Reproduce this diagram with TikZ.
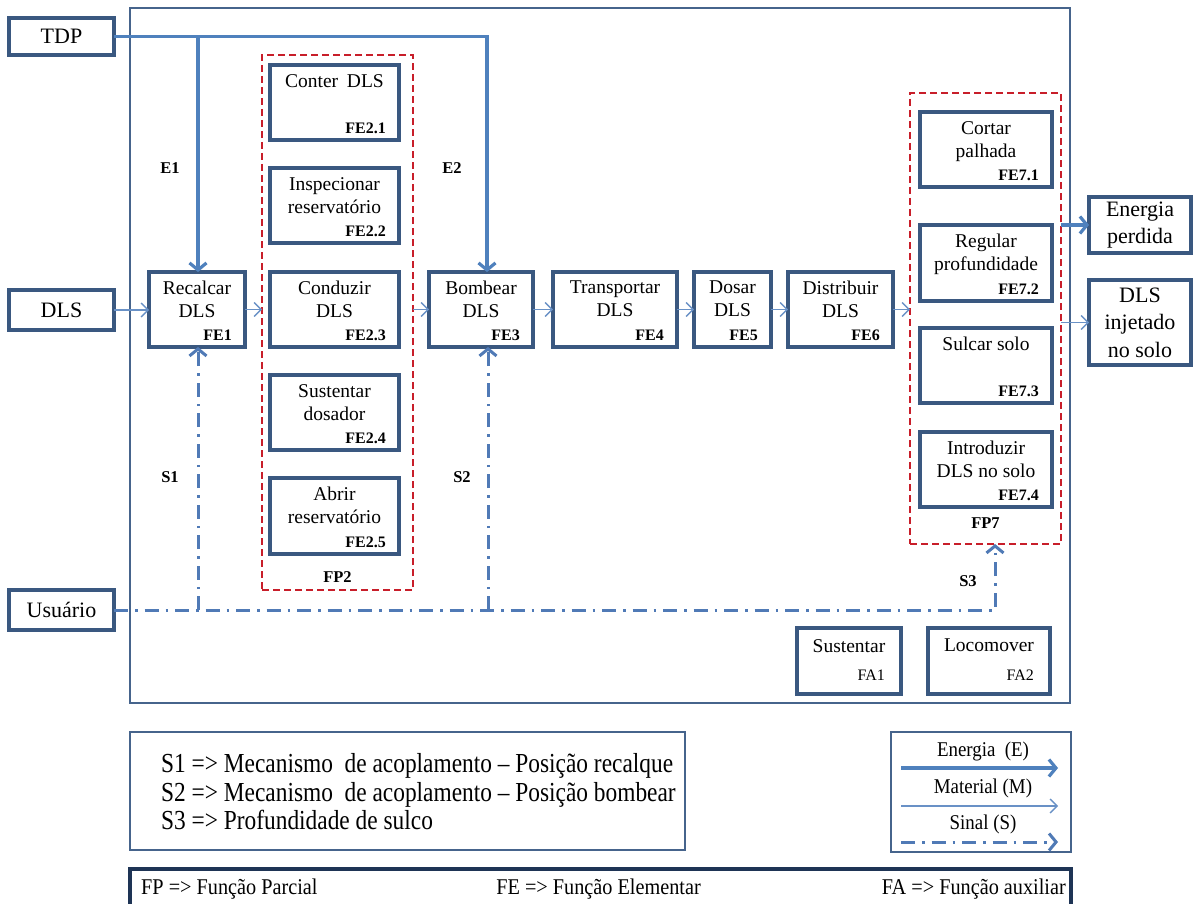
\documentclass[tikz,border=0pt]{standalone}
\usepackage{fontspec}
\setmainfont{Liberation Serif}
\newfontfamily\narrowfont[FakeStretch=0.9,Ligatures=TeX]{Liberation Serif}
\newfontfamily\legfont[FakeStretch=0.85,Ligatures=TeX]{Liberation Serif}
\usetikzlibrary{arrows.meta,fit}
\definecolor{boxc}{RGB}{58,88,128}
\definecolor{frmc}{RGB}{70,100,140}
\definecolor{redc}{RGB}{200,30,42}
\definecolor{matc}{RGB}{105,145,198}
\definecolor{enrc}{RGB}{79,129,189}
\definecolor{sigc}{RGB}{80,122,182}
\definecolor{barc}{RGB}{30,52,85}
\tikzset{
 fbox/.style={draw=boxc,line width=3.2pt,inner sep=0pt,outer sep=0pt},
 frm/.style={draw=frmc,line width=1.8pt,inner sep=0pt,outer sep=0pt},
 legbox/.style={draw=frmc,line width=2.2pt,inner sep=0pt,outer sep=0pt},
 barbox/.style={draw=barc,line width=3.4pt,inner sep=0pt,outer sep=0pt},
 fpbox/.style={draw=redc,line width=2pt,dash pattern=on 7pt off 4pt,inner sep=0pt,outer sep=0pt},
 btxt/.style={font=\fontsize{19.5}{23}\selectfont,align=center,inner sep=0pt},
 fel/.style={font=\fontsize{16}{18}\selectfont\bfseries,inner sep=0pt},
 fal/.style={font=\fontsize{16}{18}\selectfont,inner sep=0pt},
 otxt/.style={font=\fontsize{22}{27.5}\selectfont,align=center,inner sep=0pt},
 lbl/.style={font=\fontsize{16.5}{18}\selectfont\bfseries,inner sep=0pt},
 leg/.style={font=\legfont\fontsize{27.5}{28.5}\selectfont,align=left,inner sep=0pt},
 legb/.style={font=\narrowfont\fontsize{21}{24}\selectfont,inner sep=0pt},
 bartxt/.style={font=\narrowfont\fontsize{22.5}{24}\selectfont,inner sep=0pt},
 mat/.style={draw=matc,line width=1.3pt,-{Straight Barb[length=7pt,width=14pt]}},
 enr/.style={draw=enrc,line width=3.2pt,-{Straight Barb[length=7pt,width=17pt]}},
 sig/.style={draw=sigc,line width=3pt,dash pattern=on 14pt off 7pt on 2.5pt off 7pt,-{Straight Barb[length=7pt,width=17pt]}},
}
% name, x1, y1, x2, y2, text, label
\newcommand\fbx[7]{%
  \coordinate (#1-a) at (#2,#3);
  \coordinate (#1-b) at (#4,#5);
  \node[fbox, fit=(#1-a)(#1-b)] (#1) {};
  \node[btxt, anchor=north] (#1-t) at ([yshift=-9pt]#1.north) {#6};
  \node[fel, anchor=base east] (#1-l) at ([xshift=-13pt,yshift=6.5pt]#1.south east) {#7};
}
\newcommand\obx[6]{%
  \coordinate (#1-a) at (#2,#3);
  \coordinate (#1-b) at (#4,#5);
  \node[fbox, fit=(#1-a)(#1-b)] (#1) {};
  \node[otxt] (#1-t) at (#1.center) {#6};
}
\begin{document}
\begin{tikzpicture}[x=1pt,y=-1pt]
\useasboundingbox (0,0) rectangle (1193,904);
\fill[white] (0,0) rectangle (1193,904);

% main frame
\coordinate (fr-a) at (130,8);
\coordinate (fr-b) at (1070,703);
\node[frm, fit=(fr-a)(fr-b)] (frame) {};

% outside boxes
\obx{TDP}{9}{18}{114}{55}{TDP}
\obx{DLS}{9}{290}{114}{330}{DLS}
\obx{Usuario}{9}{590}{114}{630}{Usuário}
\obx{Energia}{1089}{197}{1191}{253}{Energia\\perdida}
\obx{DLSinj}{1089}{280}{1191}{365}{DLS\\injetado\\no solo}

% FP2
\coordinate (fp2-a) at (262,55);
\coordinate (fp2-b) at (413,590);
\node[fpbox, fit=(fp2-a)(fp2-b)] (FP2) {};
\node[lbl] (FP2-l) at (337.5,577) {FP2};
\fbx{FEa}{270}{65}{399}{140}{Conter\hspace{0.45em}DLS}{FE2.1}
\fbx{FEb}{270}{168}{399}{243}{Inspecionar\\reservatório}{FE2.2}
\fbx{FEc}{270}{272}{399}{347}{Conduzir\\DLS}{FE2.3}
\fbx{FEd}{270}{375}{399}{450}{Sustentar\\dosador}{FE2.4}
\fbx{FEe}{270}{478}{399}{554}{Abrir\\reservatório}{FE2.5}

% FP7
\coordinate (fp7-a) at (910,93);
\coordinate (fp7-b) at (1061,544);
\node[fpbox, fit=(fp7-a)(fp7-b)] (FP7) {};
\node[lbl] (FP7-l) at (985.5,523) {FP7};
\fbx{FGa}{920}{112}{1052}{187}{Cortar\\palhada}{FE7.1}
\fbx{FGb}{920}{225}{1052}{301}{Regular\\profundidade}{FE7.2}
\fbx{FGc}{920}{328}{1052}{403}{Sulcar solo}{FE7.3}
\fbx{FGd}{920}{432}{1052}{507}{Introduzir\\DLS no solo}{FE7.4}

% main chain
\fbx{Recalcar}{149}{272}{245}{347}{Recalcar\\DLS}{FE1}
\fbx{Bombear}{429}{272}{533}{347}{Bombear\\DLS}{FE3}
\fbx{Transportar}{553}{272}{677}{347}{Transportar\\DLS}{FE4}
\fbx{Dosar}{694}{272}{771}{347}{Dosar\\DLS}{FE5}
\fbx{Distribuir}{788}{272}{893}{347}{Distribuir\\DLS}{FE6}

% auxiliary
\coordinate (fa1-a) at (797,628);
\coordinate (fa1-b) at (901,694);
\node[fbox, fit=(fa1-a)(fa1-b)] (FA1) {};
\node[btxt, anchor=north] (FA1-t) at ([yshift=-11pt]FA1.north) {Sustentar};
\node[fal, anchor=base east] (FA1-l) at ([xshift=-16pt,yshift=14pt]FA1.south east) {FA1};
\coordinate (fa2-a) at (928,628);
\coordinate (fa2-b) at (1050,694);
\node[fbox, fit=(fa2-a)(fa2-b)] (FA2) {};
\node[btxt, anchor=north] (FA2-t) at ([yshift=-11pt]FA2.north) {Locomover};
\node[fal, anchor=base east] (FA2-l) at ([xshift=-16pt,yshift=14pt]FA2.south east) {FA2};

% material flow
\draw[mat] (DLS.east) -- (DLS.east -| Recalcar.west);
\draw[mat] (Recalcar.east) -- (Recalcar.east -| FP2.west);
\draw[mat] (Bombear.west -| FP2.east) -- (Bombear.west);
\draw[mat] (Bombear.east) -- (Transportar.west);
\draw[mat] (Transportar.east) -- (Dosar.west);
\draw[mat] (Dosar.east) -- (Distribuir.west);
\draw[mat] (Distribuir.east) -- (Distribuir.east -| FP7.west);
\draw[mat] (DLSinj.west -| FP7.east) -- (DLSinj.west);

% energy flow
\coordinate (e1) at (198,36.5);
\coordinate (e2) at (487,36.5);
\draw[enr] (TDP.east) -- (e2) -- (e2 |- Bombear.north);
\draw[enr] (e1) -- (e1 |- Recalcar.north);
\draw[enr] (Energia.west -| FP7.east) -- (Energia.west);

% signal flow
\coordinate (s1) at (198,610);
\coordinate (s2) at (488,610);
\coordinate (s3) at (995,610);
\draw[sig] (Usuario.east) -- (s3) -- (s3 |- FP7.south);
\draw[sig] (s1) -- (s1 |- Recalcar.south);
\draw[sig] (s2) -- (s2 |- Bombear.south);

% labels
\node[lbl] (E1) at (170,168) {E1};
\node[lbl] (E2) at (452,168) {E2};
\node[lbl] (S1) at (170,477) {S1};
\node[lbl] (S2) at (462,477) {S2};
\node[lbl] (S3) at (968,581) {S3};

% legend 1
\coordinate (l1-a) at (130,732);
\coordinate (l1-b) at (685,850);
\node[legbox, fit=(l1-a)(l1-b)] (leg1) {};
\node[leg, anchor=west] (leg1-t) at (161,792) {S1 => Mecanismo\ \ de acoplamento – Posição recalque\\S2 => Mecanismo\ \ de acoplamento – Posição bombear\\S3 => Profundidade de sulco};

% legend 2
\coordinate (l2-a) at (891,732);
\coordinate (l2-b) at (1071,852);
\node[legbox, fit=(l2-a)(l2-b)] (leg2) {};
\node[legb] (leg2-e) at (983,751) {Energia\ \ (E)};
\coordinate (le-a) at (901,768);
\coordinate (le-b) at (1058,768);
\draw[enr] (le-a) -- (le-b);
\node[legb] (leg2-m) at (983,788) {Material (M)};
\coordinate (lm-a) at (901,806);
\coordinate (lm-b) at (1058,806);
\draw[mat] (lm-a) -- (lm-b);
\node[legb] (leg2-s) at (983,824) {Sinal (S)};
\coordinate (ls-a) at (901,842);
\coordinate (ls-b) at (1058,842);
\draw[sig] (ls-a) -- (ls-b);

% bottom bar
\coordinate (br-a) at (130,869);
\coordinate (br-b) at (1071,915);
\node[barbox, fit=(br-a)(br-b)] (bar) {};
\node[bartxt, anchor=west] (bar-fp) at (141,889) {FP => Função Parcial};
\node[bartxt, anchor=east] (bar-fe) at (701,889) {FE => Função Elementar};
\node[bartxt, anchor=east] (bar-fa) at (1066,889) {FA => Função auxiliar};
\end{tikzpicture}
\end{document}
